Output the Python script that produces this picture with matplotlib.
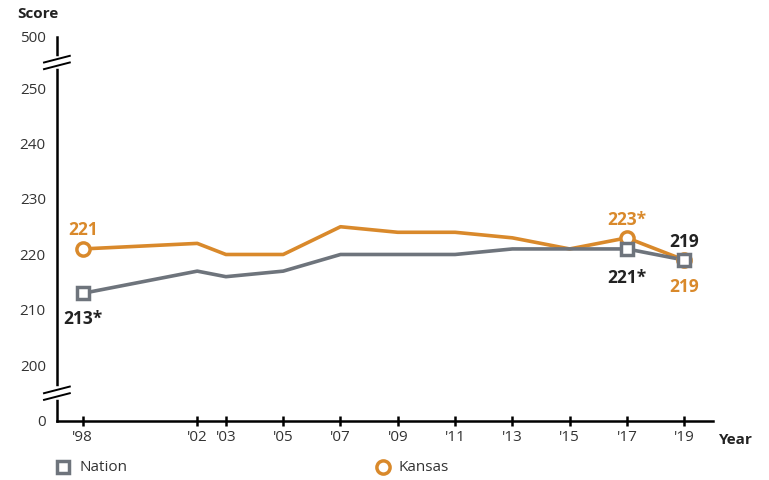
import matplotlib.pyplot as plt
from matplotlib.lines import Line2D

plt.rcParams['font.family'] = ['Open Sans', 'DejaVu Sans']

years = [1998, 2002, 2003, 2005, 2007, 2009, 2011, 2013, 2015, 2017, 2019]
year_labels = ["'98", "'02", "'03", "'05", "'07", "'09", "'11", "'13", "'15", "'17", "'19"]
nation = [213, 217, 216, 217, 220, 220, 220, 221, 221, 221, 219]
kansas = [221, 222, 220, 220, 225, 224, 224, 223, 221, 223, 219]

# y axis is broken: 0 and 500 sit one step outside the 200-250 range
ytick_vals = [0, 200, 210, 220, 230, 240, 250, 500]
ytick_pos = [190, 200, 210, 220, 230, 240, 250, 259.2]

orange = '#D9892B'
grey = '#6E747C'

fig = plt.figure(figsize=(7.69, 4.80), dpi=100)
ax = fig.add_axes([0.074, 0.123, 0.853, 0.800])

ax.plot(years, kansas, color=orange, lw=2.6, zorder=2)
ax.plot(years, nation, color=grey, lw=2.6, zorder=3)

# open markers only on first, 2017 and 2019
for i in [0, 9, 10]:
    ax.plot(years[i], kansas[i], 'o', ms=9.5, mfc='white', mec=orange, mew=2.5, zorder=4)
    ax.plot(years[i], nation[i], 's', ms=9, mfc='white', mec=grey, mew=2.5, zorder=5)

ax.set_xlim(1997.1, 2020.0)
ax.set_ylim(190, 259.2)
ax.set_xticks(years)
ax.set_xticklabels(year_labels, fontsize=11, color='#333333')
ax.set_yticks(ytick_pos)
ax.set_yticklabels([str(v) for v in ytick_vals], fontsize=11, color='#333333')
ax.tick_params(axis='y', length=0, pad=8)
ax.tick_params(axis='x', direction='inout', length=7, width=1.8, pad=3)

for s in ['top', 'right']:
    ax.spines[s].set_visible(False)
ax.spines['left'].set_linewidth(1.8)
ax.spines['bottom'].set_linewidth(1.8)

# break marks on the y axis
for yb in [254.6, 195.0]:
    ax.plot([1997.1, 1997.1], [yb - 0.7, yb + 0.7], color='white', lw=4, clip_on=False, zorder=6)
    for dy in [-0.6, 0.6]:
        ax.plot([1996.65, 1997.55], [yb + dy - 0.6, yb + dy + 0.6], color='black', lw=1.4,
                clip_on=False, zorder=7)

lab = dict(fontsize=12.5, fontweight='bold', ha='center', va='center')
ax.text(1998, 224.4, '221', color=orange, **lab)
ax.text(1998, 208.4, '213*', color='#222222', **lab)
ax.text(2017, 226.2, '223*', color=orange, **lab)
ax.text(2017, 215.8, '221*', color='#222222', **lab)
ax.text(2019, 222.3, '219', color='#222222', **lab)
ax.text(2019, 214.1, '219', color=orange, **lab)

fig.text(0.022, 0.970, 'Score', fontsize=11, fontweight='bold', color='#222222', va='center')
fig.text(0.935, 0.083, 'Year', fontsize=11, fontweight='bold', color='#222222', va='center')

# legend
fig.add_artist(Line2D([0.082], [0.027], marker='s', ms=9, mfc='white', mec=grey, mew=2.5,
                      transform=fig.transFigure))
fig.text(0.104, 0.027, 'Nation', fontsize=11, color='#333333', va='center')
fig.add_artist(Line2D([0.498], [0.027], marker='o', ms=9.5, mfc='white', mec=orange, mew=2.5,
                      transform=fig.transFigure))
fig.text(0.518, 0.027, 'Kansas', fontsize=11, color='#333333', va='center')

fig.savefig('out.png', dpi=100)
